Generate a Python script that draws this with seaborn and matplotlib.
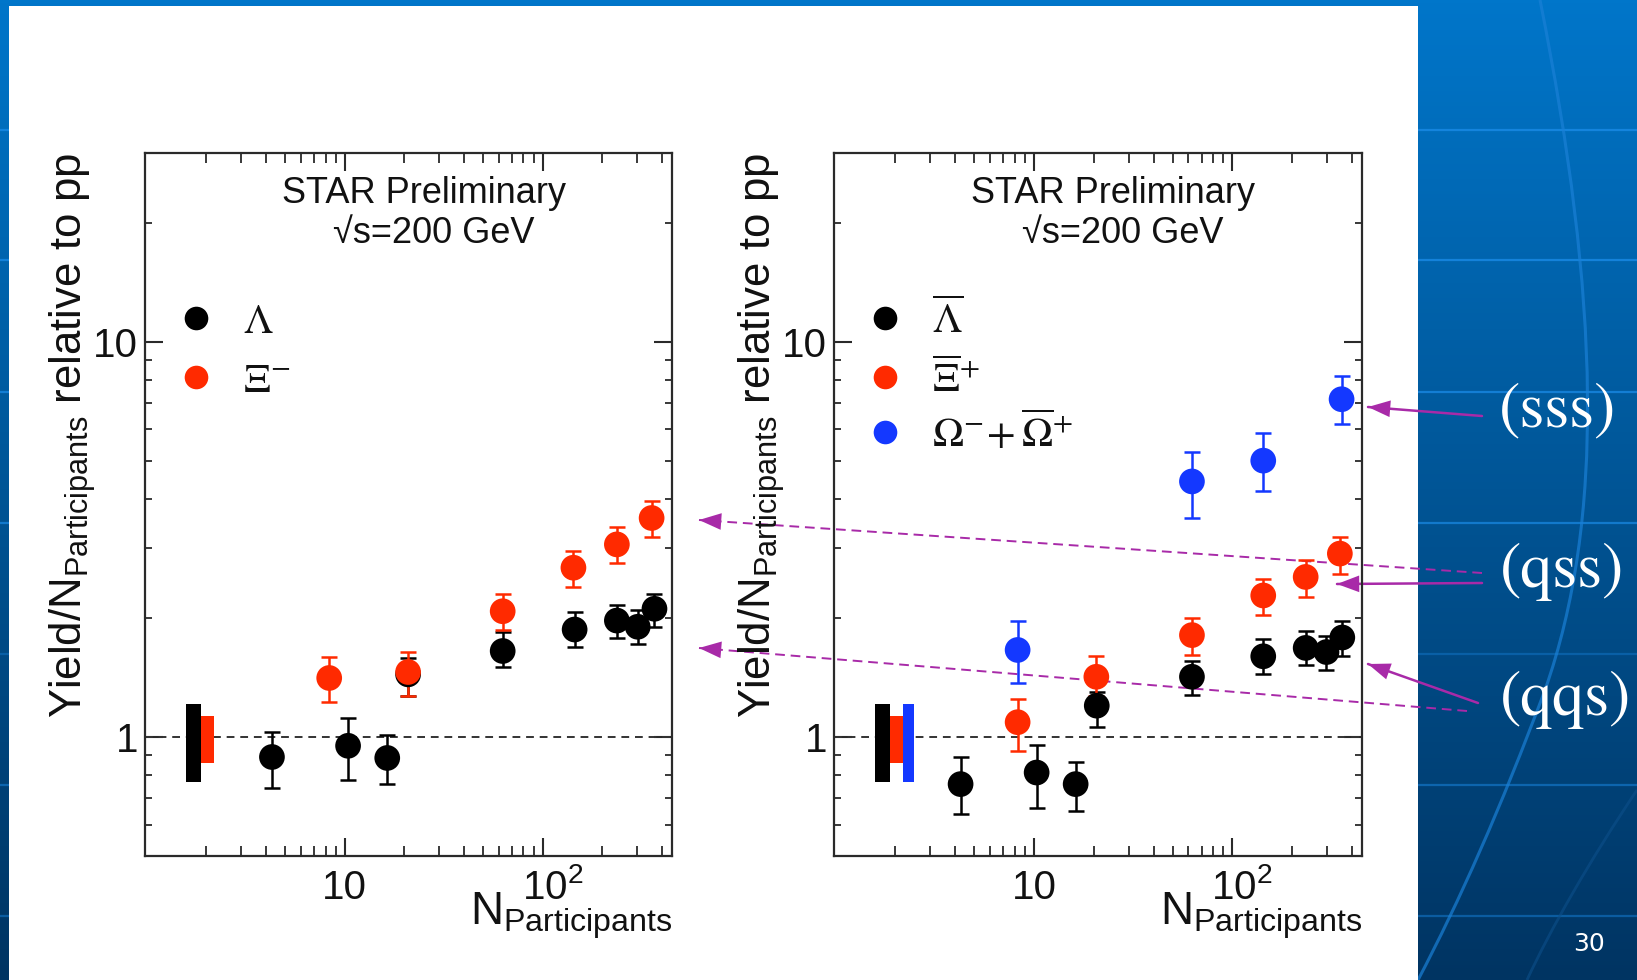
import numpy as np
import pandas as pd
import matplotlib
matplotlib.use("Agg")
import matplotlib.pyplot as plt
import matplotlib.transforms as mtransforms
from matplotlib.patches import Rectangle, PathPatch
from matplotlib.path import Path
from matplotlib.ticker import FixedLocator, NullFormatter, LogLocator, FixedFormatter
from matplotlib.font_manager import FontProperties
import seaborn as sns

# ---------------- data: strange-baryon yields per participant relative to pp ----------------
# left panel: particles
lam_npart = [4.29, 10.4, 16.4, 20.9, 62.8, 145, 237, 302, 367]
lam_ratio = [0.89, 0.95, 0.885, 1.44, 1.65, 1.87, 1.97, 1.90, 2.11]
lam_low   = [0.744, 0.779, 0.76, 1.27, 1.50, 1.69, 1.78, 1.72, 1.90]
lam_high  = [1.03, 1.12, 1.01, 1.58, 1.84, 2.07, 2.16, 2.09, 2.30]

xi_npart = [8.35, 20.9, 62.8, 143, 237, 355]
xi_ratio = [1.41, 1.46, 2.08, 2.68, 3.07, 3.58]
xi_low   = [1.226, 1.27, 1.86, 2.40, 2.75, 3.21]
xi_high  = [1.594, 1.64, 2.30, 2.95, 3.40, 3.96]

# right panel: antiparticles and omega
alam_npart = [4.26, 10.3, 16.2, 20.7, 62.5, 143, 234, 298, 358]
alam_ratio = [0.76, 0.813, 0.76, 1.20, 1.42, 1.60, 1.68, 1.64, 1.785]
alam_low   = [0.637, 0.663, 0.649, 1.06, 1.28, 1.44, 1.52, 1.48, 1.60]
alam_high  = [0.89, 0.955, 0.864, 1.30, 1.56, 1.77, 1.85, 1.80, 1.96]

axi_npart = [8.26, 20.6, 62.5, 143, 234, 348]
axi_ratio = [1.09, 1.42, 1.81, 2.28, 2.54, 2.91]
axi_low   = [0.92, 1.27, 1.61, 2.03, 2.26, 2.59]
axi_high  = [1.25, 1.60, 2.00, 2.51, 2.80, 3.20]

omg_npart = [8.26, 62.5, 143, 355]
omg_ratio = [1.66, 4.43, 5.00, 7.15]
omg_low   = [1.37, 3.58, 4.19, 6.20]
omg_high  = [1.96, 5.27, 5.86, 8.17]

# pp normalisation uncertainties (low, high)
sys_lam = (0.77, 1.21)
sys_xi = (0.86, 1.13)
sys_omg = (0.77, 1.21)

x_ticks = [10, 100]
x_ticklabels = ["10", r"$\mathregular{10^{2}}$"]
y_ticks = [1, 10]
y_ticklabels = ["1", "10"]

BLACK = "#000000"
RED = "#ff2a00"
BLUE = "#1438ff"
ARROW = "#a82aa8"

# ---------------- style ----------------
sns.set_theme(style="ticks")
plt.rcParams["font.family"] = ["Liberation Sans", "DejaVu Sans"]
plt.rcParams["mathtext.fontset"] = "custom"
plt.rcParams["mathtext.rm"] = "Liberation Sans"
plt.rcParams["mathtext.it"] = "Liberation Sans:italic"
plt.rcParams["mathtext.bf"] = "Liberation Sans:bold"

W, H = 1637, 980
fig = plt.figure(figsize=(W / 100, H / 100), dpi=100)

# ---------------- slide background ----------------
bg = fig.add_axes([0, 0, 1, 1], zorder=-10)
bg.set_xlim(0, W)
bg.set_ylim(H, 0)
bg.axis("off")
top_c = np.array([0, 118, 202]) / 255
bot_c = np.array([0, 52, 98]) / 255
t = np.linspace(0, 1, 256)[:, None, None]
grad = top_c[None, None, :] * (1 - t) + bot_c[None, None, :] * t
bg.imshow(grad, extent=(0, W, H, 0), aspect="auto", zorder=0)
for yy, a in zip([130, 260, 392, 523, 654, 785, 916], [0.8, 0.8, 0.75, 0.7, 0.35, 0.5, 0.45]):
    bg.plot([0, W], [yy, yy], color="#1a8ae6", lw=1.6, alpha=a, zorder=1)
arc1 = Path([(1540, 0), (1600, 300), (1605, 520), (1545, 690),
             (1500, 810), (1460, 900), (1418, 980)],
            [Path.MOVETO, Path.CURVE4, Path.CURVE4, Path.CURVE4,
             Path.CURVE4, Path.CURVE4, Path.CURVE4])
bg.add_patch(PathPatch(arc1, fill=False, edgecolor="#1a80d6", lw=2.2, alpha=0.7, zorder=1))
arc2 = Path([(1637, 790), (1590, 860), (1550, 930), (1527, 980)],
            [Path.MOVETO, Path.CURVE4, Path.CURVE4, Path.CURVE4])
bg.add_patch(PathPatch(arc2, fill=False, edgecolor="#0d4f8a", lw=2, alpha=0.6, zorder=1))
bg.add_patch(Rectangle((9, 6), 1418 - 9, H, facecolor="white", edgecolor="none", zorder=2))

# ---------------- panels ----------------
ax_l = fig.add_axes([145 / W, 1 - 856 / H, 527 / W, 703 / H])
ax_r = fig.add_axes([834 / W, 1 - 856 / H, 528 / W, 703 / H])


def frame(ax):
    ax.set_facecolor("none")
    ax.set_xscale("log")
    ax.set_yscale("log")
    ax.set_xlim(0.98, 450)
    ax.set_ylim(0.5, 30)
    for s in ax.spines.values():
        s.set_visible(True)
        s.set_color("#2a2a2a")
        s.set_linewidth(1.6)
    ax.xaxis.set_major_locator(FixedLocator(x_ticks))
    ax.xaxis.set_major_formatter(NullFormatter())
    ax.xaxis.set_minor_locator(LogLocator(subs=np.arange(2, 10)))
    ax.xaxis.set_minor_formatter(NullFormatter())
    ax.yaxis.set_major_locator(FixedLocator(y_ticks))
    ax.yaxis.set_major_formatter(FixedFormatter(y_ticklabels))
    ax.yaxis.set_minor_locator(LogLocator(subs=np.arange(2, 10)))
    ax.yaxis.set_minor_formatter(NullFormatter())
    ax.tick_params(which="both", direction="in", top=True, right=True, color="#2a2a2a")
    ax.tick_params(which="major", length=13, width=1.5)
    ax.tick_params(axis="x", which="minor", length=7, width=1.3)
    ax.tick_params(axis="y", which="minor", length=5, width=1.3)
    ax.tick_params(axis="y", which="major", labelsize=29, pad=5, labelcolor="#111111")
    ax.set_xlabel("")
    ax.set_ylabel("")
    # x tick labels on a common baseline
    tr = mtransforms.blended_transform_factory(ax.transData, ax.transAxes)
    for xv, lab, dx in zip(x_ticks, x_ticklabels, [0, 7]):
        ax.annotate(lab, xy=(xv, -0.0605), xycoords=tr, xytext=(dx, 0),
                    textcoords="offset points", ha="center", va="baseline",
                    fontsize=29, color="#111111", annotation_clip=False)
    ax.axhline(1, color="#333333", lw=1.4, ls=(0, (4, 3)), zorder=1)
    ax.text(-0.137, 0.598, r"Yield/N$_{\mathregular{Participants}}$ relative to pp",
            transform=ax.transAxes, rotation=90, ha="center", va="center", fontsize=31.5,
            color="#111111")
    ax.text(1.0, -0.098, r"N$_{\mathregular{Participants}}$", transform=ax.transAxes,
            ha="right", va="baseline", fontsize=33, color="#111111")
    ax.text(0.529, 0.943, "STAR Preliminary", transform=ax.transAxes,
            ha="center", va="center", fontsize=26, color="#111111")
    ax.text(0.547, 0.885, "\u221as=200 GeV", transform=ax.transAxes,
            ha="center", va="center", fontsize=26, color="#111111")


def series(name, npart, ratio, low, high):
    return pd.DataFrame({"species": name, "npart": npart, "ratio": ratio,
                         "low": low, "high": high})


panels = [
    (ax_l, [series("lam", lam_npart, lam_ratio, lam_low, lam_high),
            series("xi", xi_npart, xi_ratio, xi_low, xi_high)],
     [(BLACK, sys_lam), (RED, sys_xi)],
     [(BLACK, r"$\Lambda$"), (RED, r"$\Xi^{-}$")]),
    (ax_r, [series("alam", alam_npart, alam_ratio, alam_low, alam_high),
            series("axi", axi_npart, axi_ratio, axi_low, axi_high),
            series("omg", omg_npart, omg_ratio, omg_low, omg_high)],
     [(BLACK, sys_lam), (RED, sys_xi), (BLUE, sys_omg)],
     [(BLACK, r"$\overline{\Lambda}$"), (RED, r"$\overline{\Xi}^{+}$"),
      (BLUE, r"$\Omega^{-}\!+\overline{\Omega}^{+}$")]),
]
palette = {"lam": BLACK, "xi": RED, "alam": BLACK, "axi": RED, "omg": BLUE}
sys_edges = [1.58, 1.88, 2.18, 2.49]
legend_font = FontProperties(family="DejaVu Serif", size=30, math_fontfamily="stix")

for ax, frames, sys_list, legend_items in panels:
    frame(ax)
    df = pd.concat(frames, ignore_index=True)
    # normalisation boxes at low Npart
    for i, (c, (lo, hi)) in enumerate(sys_list):
        x0, x1 = sys_edges[i], sys_edges[i + 1]
        ax.bar([x0], [hi - lo], bottom=[lo], width=[x1 - x0], align="edge",
               color=c, edgecolor="none", zorder=2)
    for name, sub in df.groupby("species", sort=False):
        ax.errorbar(sub["npart"], sub["ratio"],
                    yerr=[sub["ratio"] - sub["low"], sub["high"] - sub["ratio"]],
                    fmt="none", ecolor=palette[name], elinewidth=1.8,
                    capsize=5.5, capthick=1.8, zorder=3)
    sns.scatterplot(data=df, x="npart", y="ratio", hue="species", palette=palette,
                    s=18.5 ** 2, linewidth=0, legend=False, ax=ax, zorder=4)
    ax.set_xlabel("")
    ax.set_ylabel("")
    for k, (c, lab) in enumerate(legend_items):
        yk = [0.765, 0.681, 0.603][k]
        ax.plot([0.097], [yk], "o", ms=17, color=c, mec="none",
                transform=ax.transAxes, clip_on=False)
        ax.text(0.186, yk - 0.021, lab, transform=ax.transAxes, ha="left",
                va="baseline", fontproperties=legend_font, color="#111111")

# ---------------- annotations on the slide ----------------
def pointer(start, tip, dashed):
    start = np.array(start, float)
    tip = np.array(tip, float)
    if dashed:
        bg.plot([start[0], tip[0]], [start[1], tip[1]], color=ARROW, lw=1.4,
                ls=(0, (5, 3)), zorder=5)
    else:
        bg.plot([start[0], tip[0]], [start[1], tip[1]], color=ARROW, lw=1.8, zorder=5)
    d = (start - tip) / np.linalg.norm(start - tip)
    bg.annotate("", xy=tip, xytext=tip + 24 * d,
                arrowprops=dict(arrowstyle="-|>,head_length=1.6,head_width=0.6",
                                mutation_scale=10, color=ARROW, lw=0,
                                shrinkA=0, shrinkB=0), zorder=6)


pointer((1482, 416), (1368, 407), False)
pointer((1482, 583), (1337, 584), False)
pointer((1478, 703), (1368, 664), False)
pointer((1482, 573), (699, 520), True)
pointer((1467, 711), (699, 648), True)

for txt, (xc, yc) in zip(["(sss)", "(qss)", "(qqs)"],
                         [(1558, 411), (1562, 572), (1566, 700)]):
    bg.text(xc, yc, txt, ha="center", va="center", color="white", fontsize=46,
            family=["STIXGeneral", "DejaVu Serif"], zorder=6)

bg.text(1589, 944, "30", ha="center", va="center", color="white", fontsize=18,
        family="DejaVu Sans", zorder=6)

fig.savefig("out.png", dpi=100)
